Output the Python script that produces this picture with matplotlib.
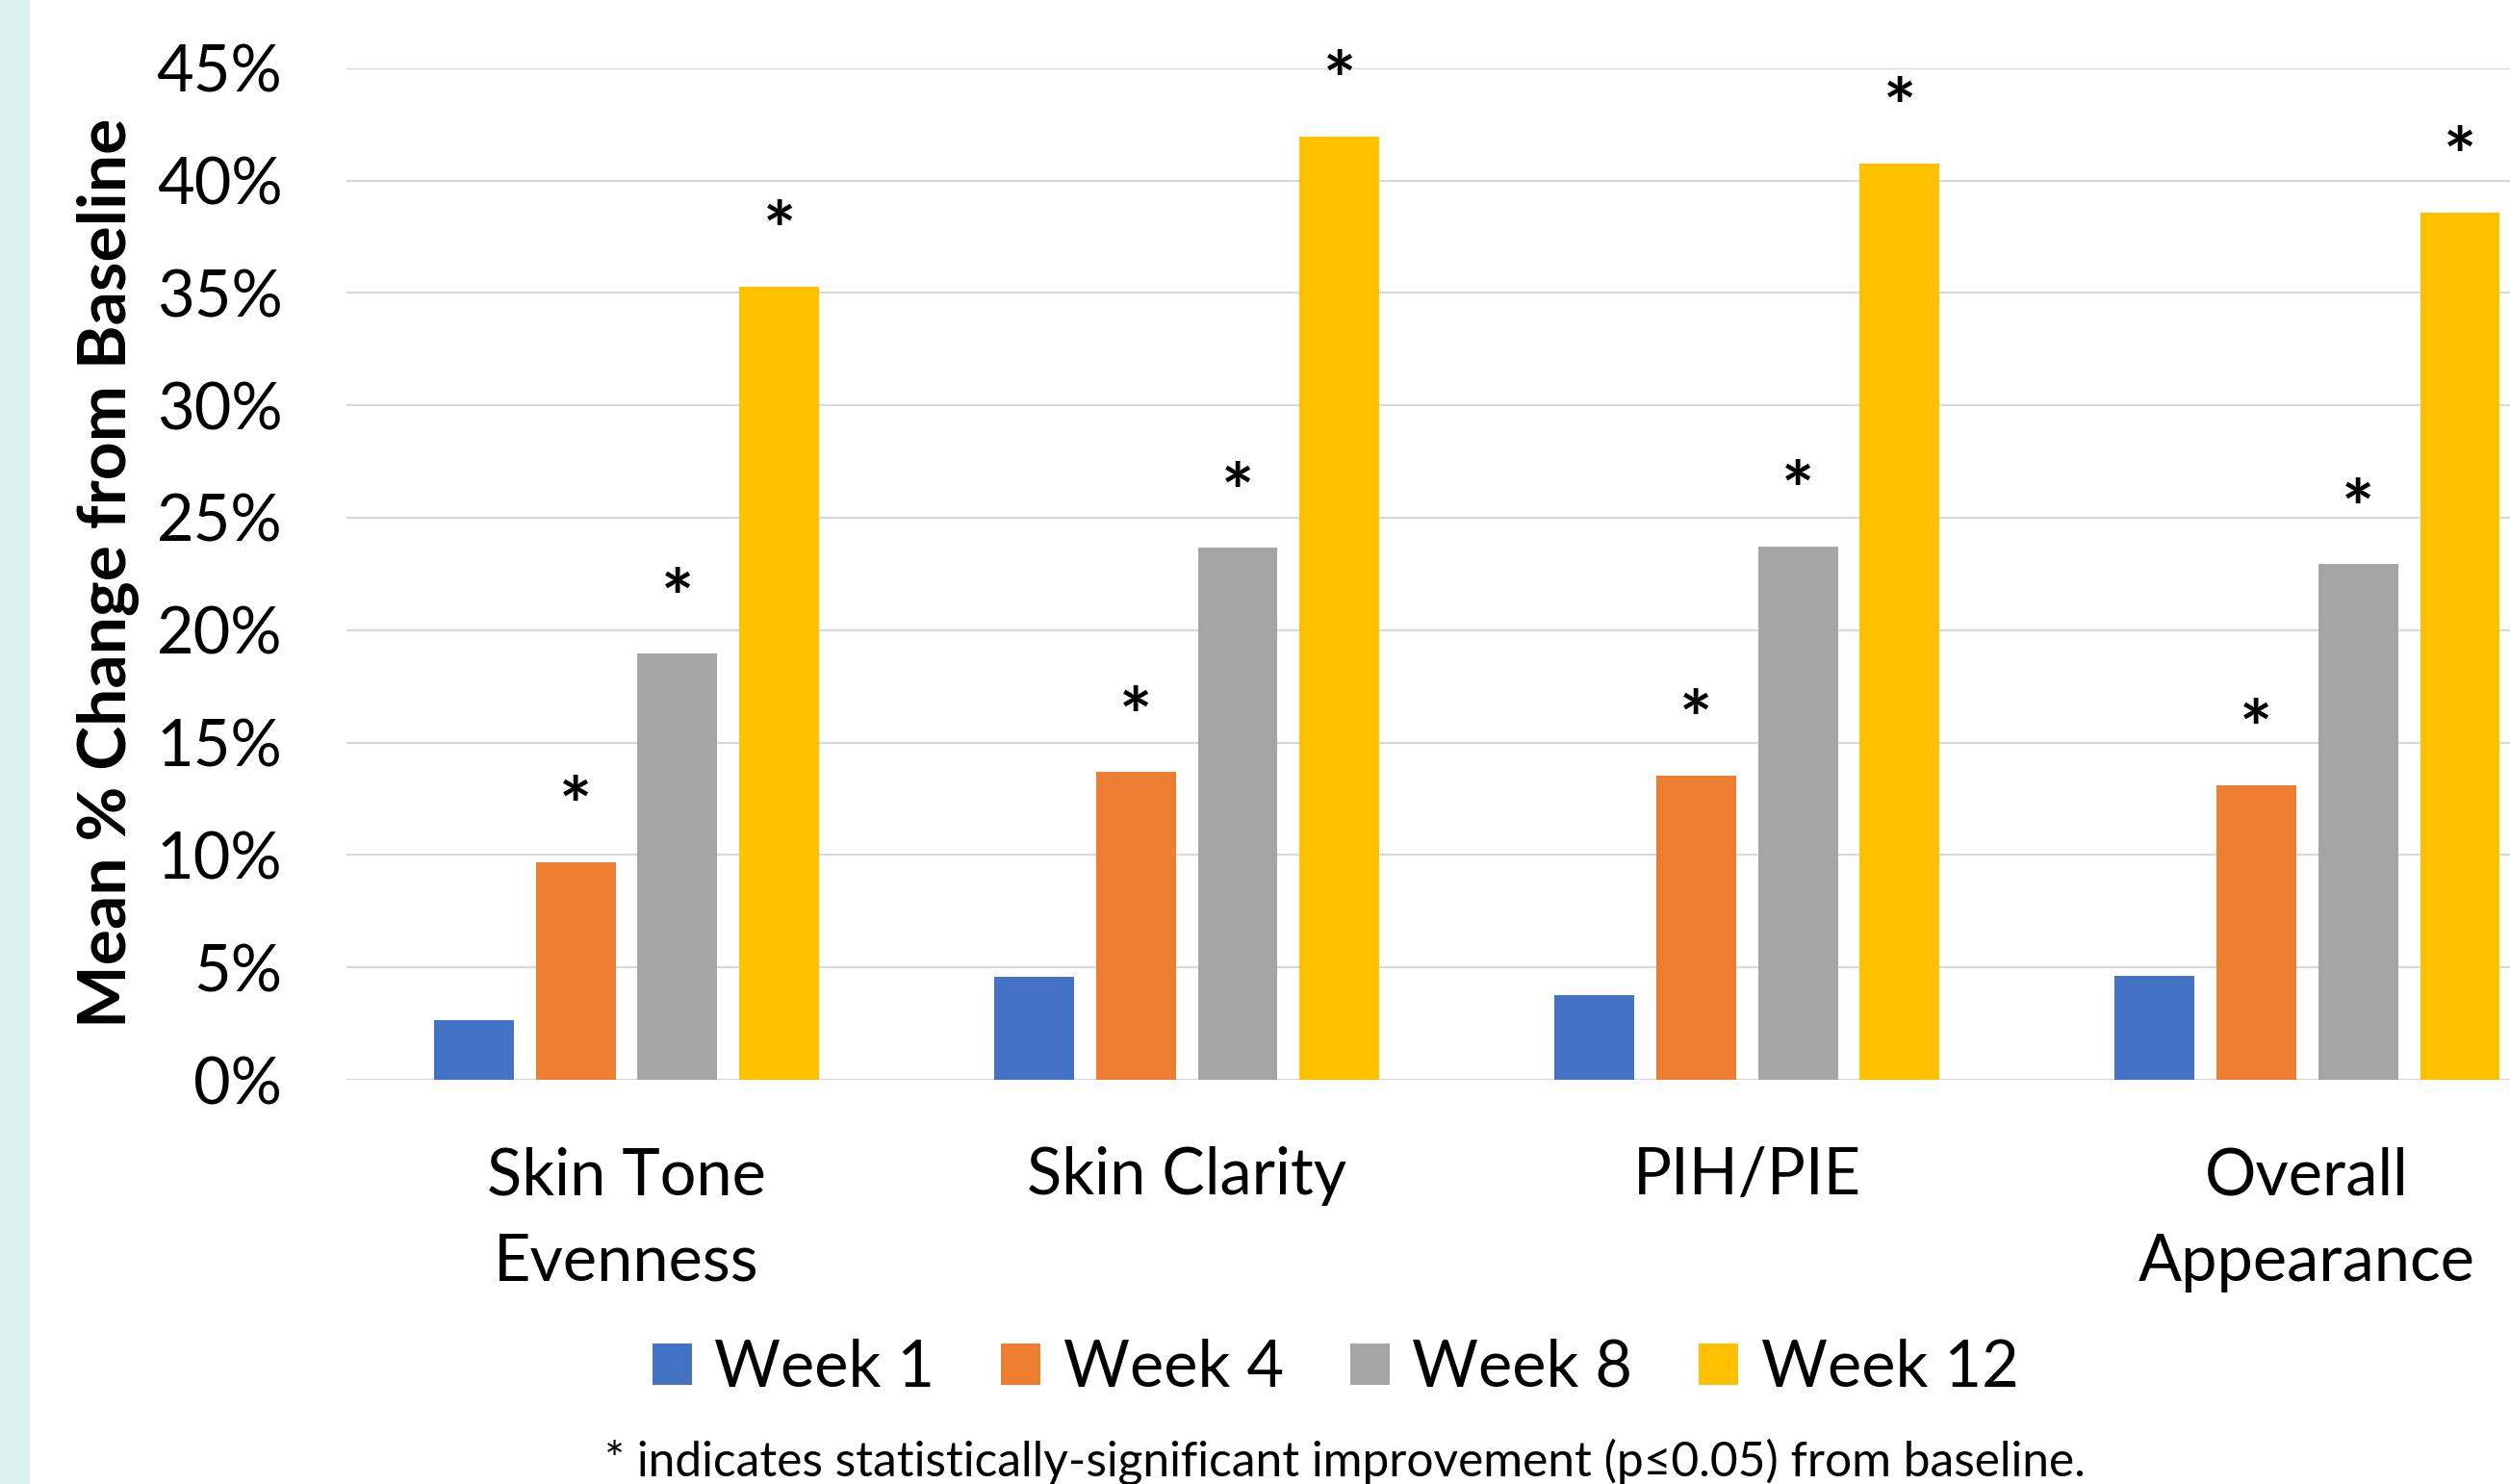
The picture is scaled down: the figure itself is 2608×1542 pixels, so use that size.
import matplotlib.pyplot as plt
import matplotlib.patches as mpatches
import matplotlib.ticker as mticker
import numpy as np

# data
categories = ['Skin Tone\nEvenness', 'Skin Clarity', 'PIH/PIE', 'Overall\nAppearance']
series = ['Week 1', 'Week 4', 'Week 8', 'Week 12']
week1 = [2.64, 4.56, 3.77, 4.64]
week4 = [9.69, 13.68, 13.53, 13.10]
week8 = [18.95, 23.65, 23.72, 22.93]
week12 = [35.26, 41.95, 40.74, 38.56]
significant = [False, True, True, True]   # per series, '*' above every bar
colors = ['#4472C4', '#ED7D31', '#A5A5A5', '#FFC000']

plt.rcParams['font.family'] = ['Lato', 'DejaVu Sans']

fig = plt.figure(figsize=(26.08, 15.42), dpi=100)
# light cyan strip down the left edge
fig.patches.append(mpatches.Rectangle((0, 0), 31 / 2608, 1, transform=fig.transFigure,
                                      facecolor='#DAF3EE', edgecolor='none', zorder=0))

ax = fig.add_axes([360 / 2608, 1 - 1122 / 1542, 1 - 360 / 2608, (1122 - 70.7) / 1542])

x = np.arange(len(categories))
width = 0.1426
step = 0.1821
all_series = [week1, week4, week8, week12]
for i, vals in enumerate(all_series):
    xs = x + (i - 1.5) * step
    ax.bar(xs, np.array(vals) / 100, width, color=colors[i], label=series[i], zorder=2)
    if significant[i]:
        for xi, v in zip(xs, vals):
            ax.annotate('*', xy=(xi, v / 100), xytext=(0, 38), textcoords='offset points',
                        ha='center', va='center', fontsize=58, fontweight='bold')

ax.set_xlim(-0.5, 3.3625)
ax.set_ylim(0, 0.45)
ax.yaxis.set_major_locator(mticker.MultipleLocator(0.05))
ax.yaxis.set_major_formatter(mticker.PercentFormatter(1.0, decimals=0))
ax.grid(axis='y', color='#D9D9D9', linewidth=1.6, zorder=0)
ax.set_axisbelow(True)
for s in ax.spines.values():
    s.set_visible(False)

ax.set_xticks(x)
ax.set_xticklabels(categories, fontsize=48, va='top', linespacing=1.55)
ax.tick_params(axis='x', length=0, pad=50)
ax.tick_params(axis='y', length=0, pad=48, labelsize=48)

fig.text(113 / 2608, 0.614, 'Mean % Change from Baseline', rotation=90, ha='center', va='center',
         fontsize=50, fontweight='bold')

handles, labels = ax.get_legend_handles_labels()
fig.legend(handles, labels, loc='center', bbox_to_anchor=(0.532, 0.078), ncol=4, frameon=False,
           fontsize=48, handlelength=0.62, handleheight=0.62, handletextpad=0.35,
           columnspacing=1.03)

fig.text(0.536, 0.015, '* indicates statistically-significant improvement (p\u22640.05) from baseline.',
         ha='center', va='center', fontsize=35.7)

fig.savefig('out.png', dpi=100)
